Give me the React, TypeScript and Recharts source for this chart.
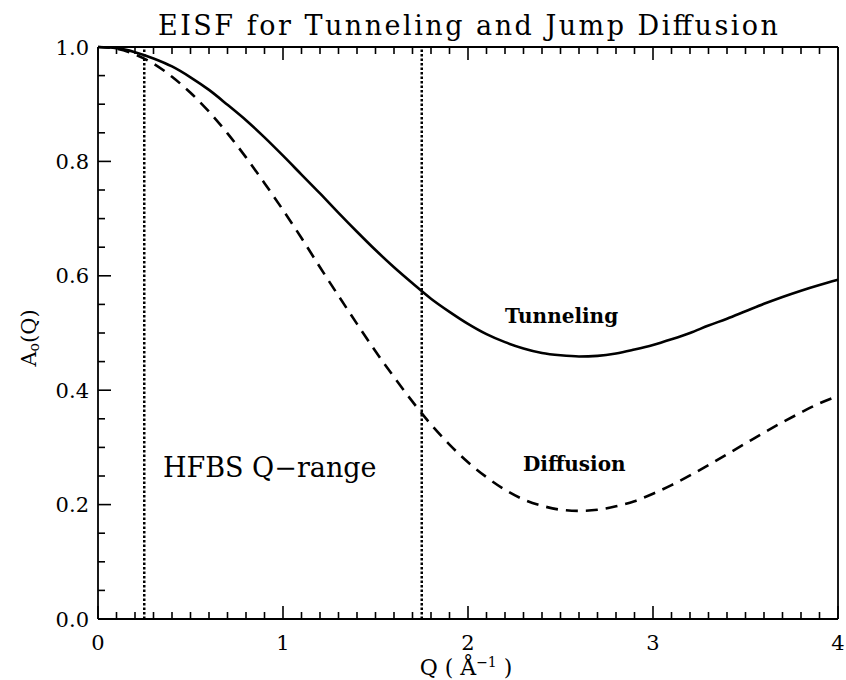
import React from "react";
import { LineChart, Line, XAxis, YAxis, ReferenceLine, ReferenceDot } from "recharts";

const qValues = [
  0.0, 0.1, 0.2, 0.3, 0.4, 0.5, 0.6, 0.7, 0.8, 0.9, 1.0, 1.1, 1.2, 1.3, 1.4, 1.5, 1.6, 1.7, 1.8, 1.9, 2.0,
  2.1, 2.2, 2.3, 2.4, 2.5, 2.6, 2.7, 2.8, 2.9, 3.0, 3.1, 3.2, 3.3, 3.4, 3.5, 3.6, 3.7, 3.8, 3.9, 4.0,
];
const tunneling = [
  1.0, 0.998, 0.991, 0.98, 0.966, 0.947, 0.925, 0.899, 0.872, 0.842, 0.81, 0.777, 0.744, 0.71, 0.677, 0.645,
  0.615, 0.587, 0.56, 0.537, 0.516, 0.498, 0.484, 0.473, 0.465, 0.461, 0.459, 0.46, 0.464, 0.471, 0.479, 0.489,
  0.5, 0.513, 0.525, 0.538, 0.551, 0.563, 0.574, 0.584, 0.593,
];
const diffusion = [
  1.0, 0.997, 0.987, 0.971, 0.948, 0.92, 0.887, 0.849, 0.807, 0.762, 0.715, 0.666, 0.615, 0.565, 0.516, 0.468,
  0.423, 0.38, 0.34, 0.305, 0.274, 0.248, 0.226, 0.209, 0.198, 0.191, 0.189, 0.191, 0.197, 0.206, 0.219, 0.234,
  0.251, 0.269, 0.288, 0.307, 0.326, 0.344, 0.361, 0.377, 0.39,
];
const hfbsRange = [0.25, 1.75];
const xMajorTicks = [0, 1, 2, 3, 4];
const yMajorTicks = [0, 0.2, 0.4, 0.6, 0.8, 1.0];
const textLabels = [
  { q: 2.2, a: 0.5175, text: "Tunneling", bold: true, size: 20 },
  { q: 2.297, a: 0.259, text: "Diffusion", bold: true, size: 20 },
  { q: 0.351, a: 0.248, text: "HFBS Q\u2212range", bold: false, size: 27 },
];

const data = qValues.map((q, i) => ({ q, tunneling: tunneling[i], diffusion: diffusion[i] }));

const xMinor = Array.from({ length: 41 }, (_, i) => i / 10);
const yMinor = Array.from({ length: 21 }, (_, i) => i / 20);

const FONT = "'DejaVu Serif', serif";
const isMajorIn = (v: number, list: number[]) => list.some((m) => Math.abs(m - v) < 1e-6);

const BottomTick = (p: any) => {
  const v = p.payload.value;
  const major = isMajorIn(v, xMajorTicks);
  return (
    <g>
      <line x1={p.x} x2={p.x} y1={p.y} y2={p.y - (major ? 13 : 7)} stroke="#000" strokeWidth={1.6} />
      {major && (
        <text x={p.x} y={p.y + 31} textAnchor="middle" fontFamily={FONT} fontSize={21} fill="#000">
          {Math.round(v)}
        </text>
      )}
    </g>
  );
};
const TopTick = (p: any) => {
  const v = p.payload.value;
  const major = isMajorIn(v, xMajorTicks);
  return <line x1={p.x} x2={p.x} y1={p.y} y2={p.y + (major ? 13 : 7)} stroke="#000" strokeWidth={1.6} />;
};
const LeftTick = (p: any) => {
  const v = p.payload.value;
  const major = isMajorIn(v, yMajorTicks);
  return (
    <g>
      <line x1={p.x} x2={p.x + (major ? 13 : 7)} y1={p.y} y2={p.y} stroke="#000" strokeWidth={1.6} />
      {major && (
        <text x={p.x - 9} y={p.y + 7.5} textAnchor="end" fontFamily={FONT} fontSize={21} fill="#000">
          {v.toFixed(1)}
        </text>
      )}
    </g>
  );
};
const RightTick = (p: any) => {
  const v = p.payload.value;
  const major = isMajorIn(v, yMajorTicks);
  return <line x1={p.x} x2={p.x - (major ? 13 : 7)} y1={p.y} y2={p.y} stroke="#000" strokeWidth={1.6} />;
};

const TitleLabel = (props: any) => {
  const vb = props.viewBox || {};
  return (
    <text
      x={vb.x + vb.width / 2}
      y={vb.y + vb.height - 12}
      textAnchor="middle"
      fontFamily={FONT}
      fontSize={27}
      textLength={620}
      lengthAdjust="spacing"
      fill="#000"
    >
      EISF for Tunneling and Jump Diffusion
    </text>
  );
};
const XLabel = (props: any) => {
  const vb = props.viewBox || {};
  return (
    <text x={vb.x + vb.width / 2 - 2} y={vb.y + 56} textAnchor="middle" fontFamily={FONT} fontSize={22} fill="#000">
      Q (  Å
      <tspan dy={-8} fontSize={14}>
        −1
      </tspan>
      <tspan dy={8}>  )</tspan>
    </text>
  );
};
const YLabel = (props: any) => {
  const vb = props.viewBox || {};
  const cx = 29;
  const cy = vb.y + vb.height / 2 + 5;
  return (
    <text
      x={cx}
      y={cy}
      transform={`rotate(-90 ${cx} ${cy})`}
      textAnchor="middle"
      dominantBaseline="central"
      fontFamily={FONT}
      fontSize={21}
      fill="#000"
    >
      A
      <tspan dy={5} fontSize={14}>
        o
      </tspan>
      <tspan dy={-5}>(Q)</tspan>
    </text>
  );
};

export default function App() {
  return (
    <div style={{ background: "#fff", position: "absolute", left: 0, top: 0, width: 846, height: 680 }}>
      <LineChart width={846} height={680} data={data} margin={{ top: 46, right: 7, bottom: 60, left: 97 }}>
        <XAxis
          xAxisId="b"
          dataKey="q"
          type="number"
          domain={[0, 4]}
          ticks={xMinor}
          interval={0}
          height={1}
          tickSize={0}
          tickMargin={0}
          tickLine={false}
          tick={<BottomTick />}
          axisLine={{ stroke: "#000", strokeWidth: 1.8 }}
          label={{ content: <XLabel /> }}
        />
        <XAxis
          xAxisId="t"
          orientation="top"
          dataKey="q"
          type="number"
          domain={[0, 4]}
          ticks={xMinor}
          interval={0}
          height={1}
          tickSize={0}
          tickMargin={0}
          tickLine={false}
          tick={<TopTick />}
          axisLine={{ stroke: "#000", strokeWidth: 1.8 }}
          label={{ content: <TitleLabel /> }}
        />
        <YAxis
          yAxisId="l"
          type="number"
          domain={[0, 1]}
          ticks={yMinor}
          interval={0}
          width={1}
          tickSize={0}
          tickMargin={0}
          tickLine={false}
          tick={<LeftTick />}
          axisLine={{ stroke: "#000", strokeWidth: 1.8 }}
          label={{ content: <YLabel /> }}
        />
        <YAxis
          yAxisId="r"
          orientation="right"
          type="number"
          domain={[0, 1]}
          ticks={yMinor}
          interval={0}
          width={1}
          tickSize={0}
          tickMargin={0}
          tickLine={false}
          tick={<RightTick />}
          axisLine={{ stroke: "#000", strokeWidth: 1.8 }}
        />
        {hfbsRange.map((q) => (
          <ReferenceLine
            key={q}
            xAxisId="b"
            yAxisId="l"
            x={q}
            stroke="#000"
            strokeWidth={2.5}
            strokeDasharray="2.5 2"
          />
        ))}
        <Line
          xAxisId="b"
          yAxisId="l"
          type="monotone"
          dataKey="tunneling"
          stroke="#000"
          strokeWidth={2.6}
          dot={false}
          isAnimationActive={false}
        />
        <Line
          xAxisId="b"
          yAxisId="l"
          type="monotone"
          dataKey="diffusion"
          stroke="#000"
          strokeWidth={2.6}
          strokeDasharray="12 8"
          dot={false}
          isAnimationActive={false}
        />
        {textLabels.map((t) => (
          <ReferenceDot
            key={t.text}
            xAxisId="b"
            yAxisId="l"
            x={t.q}
            y={t.a}
            r={0}
            ifOverflow="visible"
            shape={(p: any) => (
              <text
                x={p.cx}
                y={p.cy}
                textAnchor="start"
                fontFamily={FONT}
                fontSize={t.size}
                fontWeight={t.bold ? "bold" : "normal"}
                fill="#000"
              >
                {t.text}
              </text>
            )}
          />
        ))}
      </LineChart>
    </div>
  );
}
